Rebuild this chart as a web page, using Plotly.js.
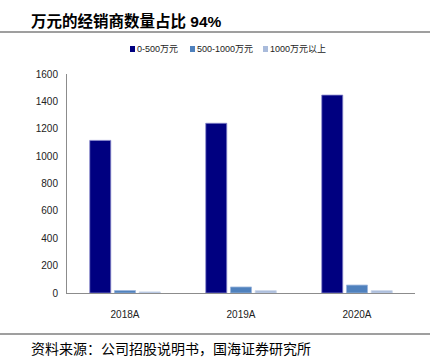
<!DOCTYPE html>
<html><head><meta charset="utf-8">
<script src="https://cdn.plot.ly/plotly-3.0.1.min.js"></script>
<style>html,body{margin:0;padding:0;background:#fff;}#chart{width:435px;height:363px;}</style>
</head><body><div id="chart"></div>
<script>
const categories = ['2018A', '2019A', '2020A'];
const seriesNames = ['0-500万元', '500-1000万元', '1000万元以上'];
const s1 = [1115, 1240, 1446];
const s2 = [18, 44, 58];
const s3 = [8, 17, 17];
const yTicks = [0, 200, 400, 600, 800, 1000, 1200, 1400, 1600];

const colors = ['#000080', '#4f81bd', '#a9bbdb'];
const lines = ['#8888cc', '#9cb5dc', '#c8d4ea'];
const font = "'Liberation Sans', Arial, 'Noto Sans CJK SC', sans-serif";

const data = [s1, s2, s3].map((v, i) => ({
  type: 'bar', x: categories, y: v, name: seriesNames[i],
  marker: {color: colors[i], line: {color: lines[i], width: 0.8}},
  hoverinfo: 'skip', showlegend: false
}));

// pixel -> paper helpers (plot area: x 67..415, y 74..293)
const px = x => (x - 67) / 348;
const py = y => (293 - y) / 219;

// custom compact legend (square + label), as in the original
const legendX = [130, 190, 263];
const shapes = [
  {type: 'line', xref: 'paper', yref: 'paper', x0: px(0), x1: px(430), y0: py(32), y1: py(32),
    line: {color: '#7f7f7f', width: 1.5}},
  {type: 'line', xref: 'paper', yref: 'paper', x0: px(0), x1: px(430), y0: py(334), y1: py(334),
    line: {color: '#7f7f7f', width: 1.5}}
];
const annotations = [
  {xref: 'paper', yref: 'paper', x: px(29), y: py(21), xanchor: 'left', yanchor: 'middle',
    text: '<b>万元的经销商数量占比 94%</b>', showarrow: false,
    font: {family: font, size: 15.5, color: '#000'}},
  {xref: 'paper', yref: 'paper', x: px(29), y: py(348), xanchor: 'left', yanchor: 'middle',
    text: '资料来源：公司招股说明书，国海证券研究所', showarrow: false,
    font: {family: "'Noto Sans CJK SC', sans-serif", size: 14, color: '#000'}}
];
seriesNames.forEach((n, i) => {
  const x0 = legendX[i];
  shapes.push({type: 'rect', xref: 'paper', yref: 'paper', x0: px(x0), x1: px(x0 + 5),
    y0: py(52), y1: py(46), fillcolor: colors[i], line: {width: 0}});
  annotations.push({xref: 'paper', yref: 'paper', x: px(x0 + 6), y: py(49), xanchor: 'left',
    yanchor: 'middle', text: n, showarrow: false, borderpad: 0,
    font: {family: font, size: 9, color: '#222'}});
});

const layout = {
  width: 435, height: 363,
  margin: {l: 67, r: 20, t: 74, b: 70},
  paper_bgcolor: '#fff', plot_bgcolor: '#fff',
  barmode: 'group', bargap: 0.36, bargroupgap: 0.15,
  font: {family: font, size: 9, color: '#222'},
  showlegend: false,
  xaxis: {showline: true, linecolor: '#8c8c8c', linewidth: 1, ticks: '', showgrid: false,
    tickfont: {size: 10, color: '#222'}, ticklabelstandoff: 12, fixedrange: true},
  yaxis: {range: [0, 1600], tickvals: yTicks, showline: true, linecolor: '#8c8c8c', linewidth: 1,
    ticks: '', showgrid: false, zeroline: false, tickfont: {size: 10, color: '#222'},
    ticklabelstandoff: 6, fixedrange: true},
  shapes: shapes,
  annotations: annotations
};
Plotly.newPlot('chart', data, layout, {displayModeBar: false, staticPlot: true});
</script></body></html>
